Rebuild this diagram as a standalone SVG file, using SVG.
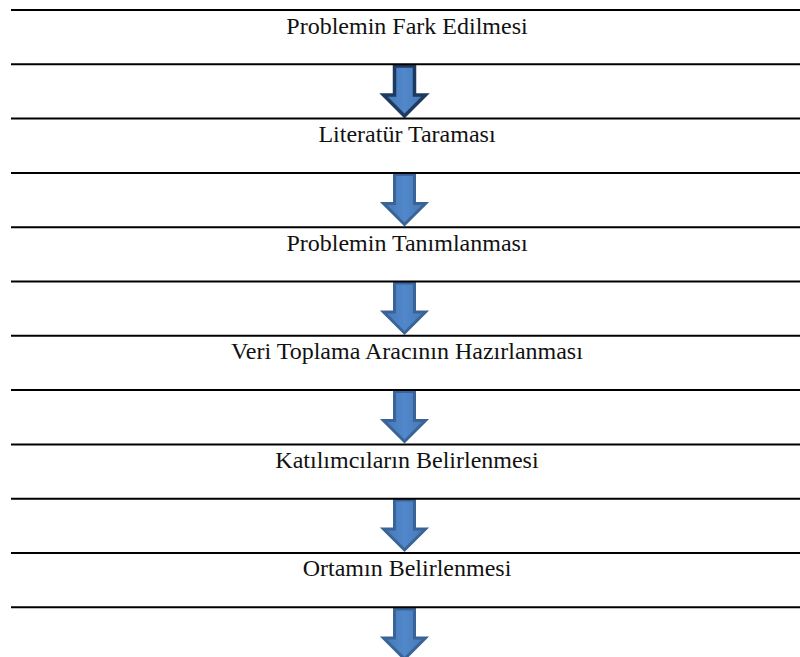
<svg xmlns="http://www.w3.org/2000/svg" width="800" height="657" viewBox="0 0 800 657">
<style>
.rule{stroke:#000;stroke-width:2;fill:none}
.lbl{font-family:'Liberation Serif','Times New Roman',Times,serif;font-size:24px;fill:#111;text-anchor:middle}
.arr{fill:url(#ag);stroke:#3A6497;stroke-width:3;stroke-linejoin:miter}
.arr.sel{stroke:#1F3A60;stroke-width:3.5}
</style>
<defs>
<linearGradient id="ag" x1="0" y1="0" x2="1" y2="0">
<stop offset="0" stop-color="#4677B3"/>
<stop offset="0.5" stop-color="#5188CB"/>
<stop offset="1" stop-color="#4677B3"/>
</linearGradient>
</defs>
<rect width="800" height="657" fill="#fff"/>
<g id="connectors">
<path class="arr sel" d="M394.5,66 H414.5 V95 H425.5 L404.5,116 L383.5,95 H394.5 Z"/>
<path class="arr" d="M394.5,174.5 H414.5 V203.5 H425.5 L404.5,224.5 L383.5,203.5 H394.5 Z"/>
<path class="arr" d="M394.5,283 H414.5 V312 H425.5 L404.5,333 L383.5,312 H394.5 Z"/>
<path class="arr" d="M394.5,391.5 H414.5 V420.5 H425.5 L404.5,441.5 L383.5,420.5 H394.5 Z"/>
<path class="arr" d="M394.5,500 H414.5 V529 H425.5 L404.5,550 L383.5,529 H394.5 Z"/>
<path class="arr" d="M394.5,609 H414.5 V638 H425.5 L404.5,659 L383.5,638 H394.5 Z"/>
</g>
<g id="node1">
<line class="rule" x1="11" y1="10" x2="800" y2="10"/>
<line class="rule" x1="11" y1="64.3" x2="800" y2="64.3"/>
<text class="lbl" font-family="Liberation Serif, serif" x="407" y="34">Problemin Fark Edilmesi</text>
</g>
<g id="node2">
<line class="rule" x1="11" y1="118.6" x2="800" y2="118.6"/>
<line class="rule" x1="11" y1="172.9" x2="800" y2="172.9"/>
<text class="lbl" font-family="Liberation Serif, serif" x="407" y="142">Literatür Taraması</text>
</g>
<g id="node3">
<line class="rule" x1="11" y1="227.2" x2="800" y2="227.2"/>
<line class="rule" x1="11" y1="281.5" x2="800" y2="281.5"/>
<text class="lbl" font-family="Liberation Serif, serif" x="407" y="250.5">Problemin Tanımlanması</text>
</g>
<g id="node4">
<line class="rule" x1="11" y1="335.8" x2="800" y2="335.8"/>
<line class="rule" x1="11" y1="390.1" x2="800" y2="390.1"/>
<text class="lbl" font-family="Liberation Serif, serif" x="407" y="358.5">Veri Toplama Aracının Hazırlanması</text>
</g>
<g id="node5">
<line class="rule" x1="11" y1="444.4" x2="800" y2="444.4"/>
<line class="rule" x1="11" y1="498.7" x2="800" y2="498.7"/>
<text class="lbl" font-family="Liberation Serif, serif" x="407" y="467.5">Katılımcıların Belirlenmesi</text>
</g>
<g id="node6">
<line class="rule" x1="11" y1="553" x2="800" y2="553"/>
<line class="rule" x1="11" y1="607.3" x2="800" y2="607.3"/>
<text class="lbl" font-family="Liberation Serif, serif" x="407" y="576">Ortamın Belirlenmesi</text>
</g>
</svg>
